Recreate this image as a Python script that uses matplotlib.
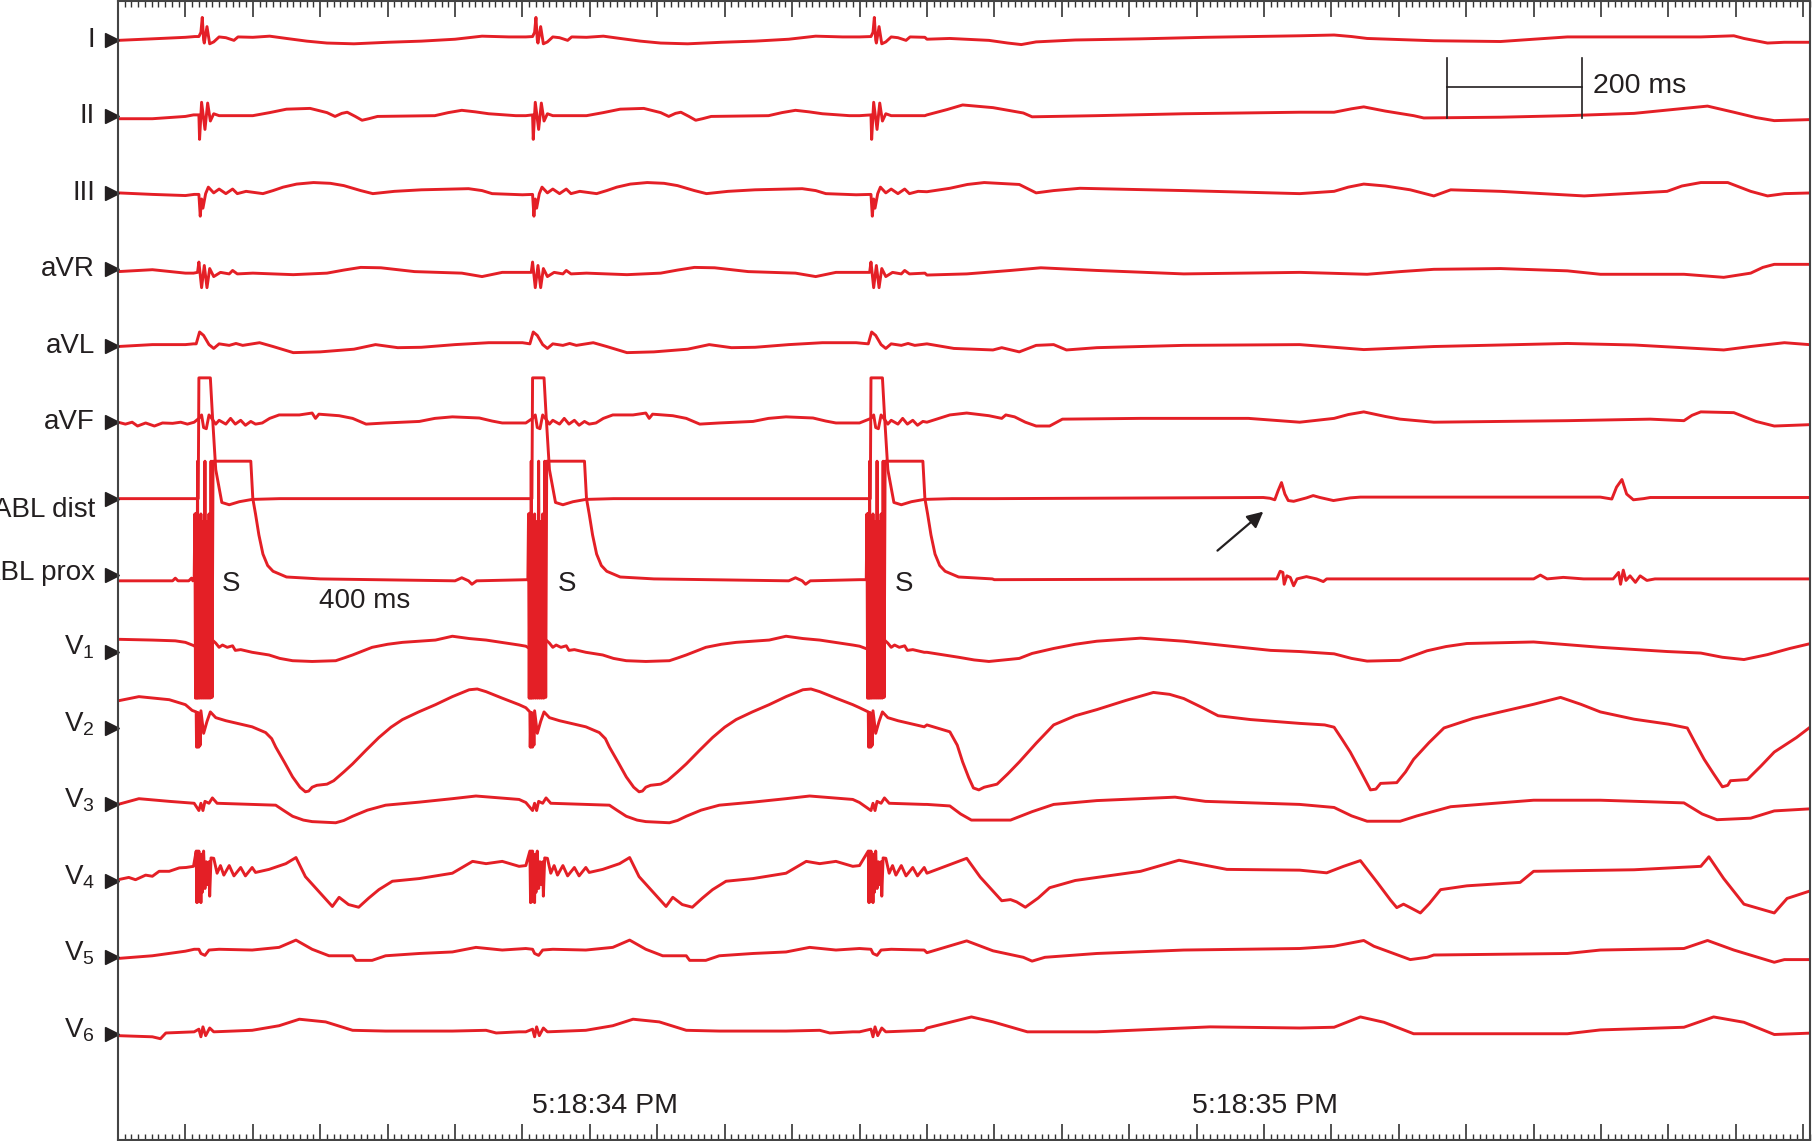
import numpy as np
import matplotlib.pyplot as plt
from matplotlib.ticker import MultipleLocator
from matplotlib.transforms import blended_transform_factory

plt.rcParams['font.family'] = ['Liberation Sans', 'DejaVu Sans']
plt.rcParams['mathtext.fontset'] = 'custom'
plt.rcParams['mathtext.rm'] = 'Liberation Sans'
plt.rcParams['mathtext.it'] = 'Liberation Sans'

RED = '#e41f26'
INK = '#231f20'

###############################################################################
# Datos: tiempo en ms, amplitud en mV (2 mV entre canales)
lead_names = ['I', 'II', 'III', 'aVR', 'aVL', 'aVF', 'ABL dist', 'ABL prox',
              'V$_1$', 'V$_2$', 'V$_3$', 'V$_4$', 'V$_5$', 'V$_6$']
label_shift = [0, 0, 0, 0, 0, 0, -0.29, 0.05, 0.1, 0.1, 0.1, 0.1, 0.1, 0.1]

stim_times = [120, 615, 1117]      # estimulos S (ms)
s_label_times = [168, 666, 1166]

# Derivacion I
i_pre = [(0, -0.01), (51, 0.03), (100, 0.07), (114, 0.09)]
i_paced = [(0, 0.09), (3, 0.2), (5, 0.59), (7, 0.0), (8, -0.08), (12, 0.35), (16, -0.10),
           (22, -0.05), (30, 0.08), (40, 0.06), (52, -0.01), (58, 0.08), (80, 0.07),
           (105, 0.10), (130, 0.04), (160, -0.03), (190, -0.08), (230, -0.10),
           (280, -0.06), (330, -0.03), (380, 0.02), (420, 0.10), (460, 0.08), (485, 0.08)]
i_post = [(1200, 0.02), (1234, 0.04), (1292, -0.01), (1320, -0.08), (1340, -0.12),
          (1362, -0.05), (1420, 0.0), (1517, 0.03), (1613, 0.07), (1753, 0.11),
          (1804, 0.13), (1830, 0.09), (1853, 0.04), (1952, -0.02), (2051, -0.04),
          (2100, 0.02), (2150, 0.08), (2249, 0.08), (2348, 0.08), (2397, 0.11),
          (2412, 0.04), (2447, -0.08), (2472, -0.06), (2516, -0.06)]

# Derivacion II
ii_pre = [(0, -0.06), (51, -0.06), (100, 0.0), (112, 0.04)]
ii_paced = [(0, 0.04), (1, -0.60), (4, 0.37), (9, -0.34), (13, 0.35), (17, -0.12),
            (22, 0.07), (30, 0.02), (80, 0.02), (105, 0.10), (130, 0.19), (165, 0.21),
            (190, 0.10), (202, 0.0), (212, 0.08), (220, 0.11), (232, 0.0), (242, -0.10),
            (252, -0.06), (265, 0.0), (350, 0.02), (370, 0.10), (390, 0.16), (410, 0.12),
            (430, 0.07), (470, 0.02), (485, 0.02)]
ii_post = [(1200, 0.04), (1230, 0.18), (1253, 0.30), (1298, 0.23), (1343, 0.09),
           (1356, -0.01), (1452, 0.02), (1581, 0.07), (1753, 0.11), (1804, 0.11),
           (1830, 0.20), (1848, 0.25), (1880, 0.14), (1922, 0.02), (1937, -0.04),
           (2051, -0.02), (2150, 0.02), (2249, 0.08), (2323, 0.21), (2358, 0.27),
           (2397, 0.11), (2430, -0.03), (2457, -0.11), (2516, -0.08)]

# Derivacion III
iii_pre = [(0, 0.0), (51, -0.04), (100, -0.07), (113, -0.04)]
iii_paced = [(0, -0.04), (2, -0.61), (4, -0.16), (6, -0.40), (10, -0.02), (14, 0.15),
             (22, 0.0), (30, 0.10), (40, -0.02), (50, 0.10), (57, -0.02), (70, 0.04),
             (95, -0.02), (110, 0.06), (125, 0.15), (145, 0.23), (170, 0.27), (195, 0.25),
             (215, 0.19), (240, 0.06), (258, -0.02), (290, 0.04), (330, 0.08),
             (400, 0.11), (420, 0.06), (435, -0.02), (480, -0.05)]
iii_post = [(1200, 0.03), (1234, 0.12), (1260, 0.22), (1285, 0.27), (1337, 0.22),
            (1362, 0.0), (1388, 0.06), (1427, 0.12), (1581, 0.06), (1753, -0.02),
            (1804, 0.04), (1825, 0.15), (1848, 0.23), (1880, 0.18), (1917, 0.08),
            (1952, -0.08), (1977, 0.08), (2051, 0.04), (2175, -0.08), (2298, 0.04),
            (2320, 0.18), (2348, 0.27), (2388, 0.27), (2422, 0.04), (2447, -0.08),
            (2472, -0.02), (2516, 0.0)]

# aVR
avr_pre = [(0, -0.06), (51, -0.01), (100, -0.10), (112, -0.10)]
avr_paced = [(-2, -0.08), (0, 0.19), (4, -0.48), (8, 0.10), (12, -0.48), (16, 0.02),
             (22, -0.19), (32, -0.08), (45, -0.12), (50, -0.03), (57, -0.12),
             (80, -0.10), (140, -0.14), (190, -0.10), (215, -0.02), (240, 0.05),
             (270, 0.04), (320, -0.06), (390, -0.10), (420, -0.19), (450, -0.08),
             (480, -0.08)]
avr_post = [(1200, -0.15), (1259, -0.12), (1324, -0.03), (1369, 0.04), (1452, -0.03),
            (1581, -0.12), (1753, -0.08), (1853, -0.13), (1902, -0.06), (1952, 0.0),
            (2051, 0.02), (2150, -0.04), (2199, -0.13), (2323, -0.13), (2382, -0.21),
            (2422, -0.10), (2440, 0.05), (2457, 0.13), (2516, 0.13)]

# aVL
avl_pre = [(0, -0.02), (51, 0.03), (100, 0.03), (112, 0.05)]
avl_paced = [(-4, 0.05), (1, 0.36), (7, 0.27), (15, 0.03), (22, -0.07), (30, 0.05),
             (45, 0.01), (55, 0.06), (65, 0.01), (90, 0.08), (110, -0.02), (140, -0.18),
             (180, -0.16), (230, -0.09), (262, 0.03), (295, -0.05), (330, -0.04),
             (380, 0.03), (430, 0.08), (480, 0.08)]
avl_post = [(1200, 0.05), (1240, -0.07), (1298, -0.11), (1311, -0.05), (1337, -0.16),
            (1362, 0.01), (1388, 0.03), (1407, -0.11), (1452, -0.05), (1581, 0.01),
            (1753, 0.03), (1848, -0.10), (1952, -0.02), (2150, 0.06), (2249, 0.02),
            (2382, -0.11), (2422, -0.02), (2472, 0.08), (2516, 0.02)]

# aVF
avf_pre = [(0, 0.0), (11, -0.05), (21, 0.0), (29, -0.10), (41, -0.02), (54, -0.10),
           (66, -0.02), (81, -0.03), (93, 0.0), (103, -0.05), (113, 0.0)]
avf_paced = [(0, 0.10), (4, 0.19), (7, -0.14), (11, -0.17), (15, 0.19), (19, 0.10),
             (25, -0.05), (30, 0.05), (40, -0.05), (47, 0.10), (54, -0.05), (62, 0.05),
             (69, -0.08), (77, 0.02), (84, -0.05), (94, -0.02), (105, 0.10), (119, 0.19),
             (149, 0.19), (168, 0.24), (173, 0.10), (178, 0.21), (208, 0.17), (228, 0.10),
             (248, -0.05), (277, -0.02), (327, 0.02), (350, 0.10), (376, 0.14),
             (416, 0.11), (435, 0.03), (450, -0.02), (485, -0.02)]
avf_post = [(1200, 0.0), (1234, 0.19), (1259, 0.24), (1292, 0.17), (1311, 0.10),
            (1317, 0.19), (1330, 0.14), (1346, 0.0), (1362, -0.10), (1382, -0.10),
            (1401, 0.08), (1517, 0.10), (1677, 0.10), (1753, 0.0), (1804, 0.10),
            (1825, 0.20), (1848, 0.27), (1880, 0.15), (1902, 0.08), (1952, 0.0),
            (2150, 0.04), (2273, 0.08), (2323, 0.04), (2335, 0.18), (2348, 0.27),
            (2397, 0.25), (2430, 0.02), (2457, -0.10), (2516, -0.06)]

# Ablacion distal
abld_pre = [(0, 0.0), (118, 0.0)]
abld_paced = [(-1, 0.0), (0, 3.16), (17, 3.16), (20, 2.2), (25, 0.76), (34, -0.10),
              (45, -0.16), (60, -0.08), (79, -0.02), (120, 0.0), (485, 0.0)]
abld_post = [(1300, 0.0), (1699, 0.03), (1709, 0.01), (1716, -0.03), (1721, 0.21),
             (1726, 0.42), (1731, 0.12), (1736, -0.05), (1744, -0.07), (1763, 0.02),
             (1773, 0.08), (1783, 0.03), (1803, -0.05), (1828, 0.02), (1843, 0.04),
             (2199, 0.04), (2216, -0.01), (2223, 0.30), (2231, 0.50), (2238, 0.12),
             (2248, -0.03), (2263, 0.0), (2273, 0.03), (2516, 0.03)]

# Ablacion proximal (bloque saturado del estimulo)
ablp_pre = [(0, -0.15), (81, -0.15), (85, -0.08), (89, -0.15), (105, -0.15),
            (109, -0.08), (111, -0.15)]
ablp_paced = [(-7, -0.12), (-6, 1.6), (-5, -3.22), (-4, 1.62), (-3, -3.22), (-2, 2.98),
              (-1, -3.22), (0, 1.5), (1.5, -3.22), (3, 1.6), (4.5, -3.22), (6, 1.4),
              (7.5, -3.22), (9, 2.98), (10.5, -3.22), (12, 1.4), (13.5, -3.22),
              (15, 1.6), (16.5, -3.22), (18, 2.98), (19.5, -3.2), (21, 2.98),
              (77, 2.98), (80, 2.0), (84, 1.6), (89, 1.05), (95, 0.55), (102, 0.25),
              (110, 0.1), (130, -0.05), (180, -0.1), (380, -0.15), (390, -0.07),
              (400, -0.15), (405, -0.24), (412, -0.15), (485, -0.12)]
ablp_post = [(1300, -0.12), (1719, -0.10), (1724, 0.10), (1728, 0.07), (1730, -0.24),
             (1734, -0.02), (1739, -0.06), (1744, -0.28), (1749, -0.10), (1763, -0.04),
             (1778, -0.10), (1788, -0.17), (1793, -0.10), (2100, -0.10), (2110, 0.0),
             (2120, -0.10), (2144, -0.06), (2174, -0.10), (2218, -0.10), (2226, 0.07),
             (2229, -0.24), (2233, 0.13), (2237, -0.14), (2243, -0.02), (2251, -0.19),
             (2258, -0.02), (2268, -0.14), (2280, -0.10), (2516, -0.10)]

# V1
v1_pre = [(0, 0.32), (51, 0.30), (85, 0.28), (100, 0.24), (113, 0.15)]
v1_paced = [(0, 0.03), (20, 0.30), (25, 0.22), (30, 0.11), (35, 0.17), (42, 0.11),
            (50, 0.15), (54, 0.03), (62, 0.05), (79, -0.02), (104, -0.09), (120, -0.18),
            (139, -0.24), (168, -0.26), (203, -0.24), (215, -0.17), (228, -0.09),
            (257, 0.11), (280, 0.19), (302, 0.24), (351, 0.30), (376, 0.40), (401, 0.34),
            (426, 0.30), (475, 0.17), (485, 0.14)]
v1_post = [(1200, -0.02), (1247, -0.15), (1270, -0.22), (1292, -0.26), (1337, -0.18),
           (1356, -0.05), (1388, 0.08), (1420, 0.19), (1452, 0.27), (1517, 0.35),
           (1581, 0.27), (1645, 0.15), (1710, 0.03), (1753, 0.0), (1804, -0.06),
           (1830, -0.18), (1853, -0.25), (1902, -0.23), (1920, -0.12), (1942, 0.02),
           (1970, 0.13), (2001, 0.21), (2100, 0.25), (2199, 0.11), (2298, 0.0),
           (2348, -0.04), (2380, -0.15), (2412, -0.21), (2447, -0.08), (2480, 0.08),
           (2516, 0.23)]

# V2
v2_pre = [(0, 0.71), (31, 0.82), (76, 0.74), (100, 0.61), (110, 0.46)]
v2_paced = [(-4, 0.42), (-3.5, -0.50), (-2.5, 0.40), (-2, -0.50), (-1, 0.40),
            (0, -0.50), (1, 0.38), (2, -0.45), (3, 0.45), (7, -0.14), (12, 0.17),
            (17, 0.42), (25, 0.27), (40, 0.19), (79, 0.03), (99, -0.12), (108, -0.28),
            (114, -0.50), (127, -0.90), (139, -1.28), (150, -1.55), (158, -1.67),
            (163, -1.65), (168, -1.55), (175, -1.50), (190, -1.47), (200, -1.38),
            (215, -1.15), (228, -0.94), (248, -0.58), (267, -0.25), (285, 0.02),
            (302, 0.22), (326, 0.42), (351, 0.61), (376, 0.82), (401, 1.0), (413, 1.02),
            (426, 0.95), (450, 0.78), (475, 0.61), (485, 0.53)]
v2_post = [(1200, 0.08), (1234, -0.10), (1245, -0.45), (1253, -0.89), (1262, -1.30),
           (1269, -1.57), (1277, -1.62), (1285, -1.55), (1304, -1.47), (1320, -1.20),
           (1337, -0.89), (1362, -0.40), (1388, 0.08), (1420, 0.32), (1452, 0.48),
           (1495, 0.72), (1536, 0.93), (1560, 0.88), (1581, 0.77), (1610, 0.52),
           (1632, 0.32), (1680, 0.22), (1753, 0.12), (1790, 0.08), (1804, 0.02),
           (1816, -0.30), (1828, -0.63), (1843, -1.12), (1858, -1.62), (1866, -1.60),
           (1873, -1.45), (1897, -1.43), (1910, -1.15), (1922, -0.82), (1945, -0.38),
           (1967, 0.0), (2010, 0.25), (2051, 0.42), (2100, 0.62), (2140, 0.80),
           (2170, 0.62), (2199, 0.42), (2249, 0.23), (2300, 0.10), (2328, 0.0),
           (2340, -0.40), (2353, -0.82), (2367, -1.20), (2380, -1.54), (2388, -1.50),
           (2392, -1.38), (2417, -1.35), (2437, -1.00), (2457, -0.63), (2490, -0.25),
           (2516, 0.10)]

# V3
v3_pre = [(0, 0.0), (31, 0.15), (76, 0.08), (113, 0.03)]
v3_paced = [(0, -0.16), (3, 0.03), (6, -0.16), (9, 0.08), (15, 0.03), (20, 0.17),
            (27, 0.03), (79, 0.0), (114, -0.02), (125, -0.15), (139, -0.31), (155, -0.41),
            (168, -0.45), (203, -0.48), (215, -0.42), (228, -0.31), (250, -0.15),
            (277, -0.02), (327, 0.06), (376, 0.15), (411, 0.22), (475, 0.13), (485, 0.05)]
v3_post = [(1200, 0.0), (1234, -0.04), (1250, -0.25), (1266, -0.41), (1324, -0.41),
           (1356, -0.19), (1388, 0.0), (1452, 0.10), (1568, 0.19), (1613, 0.08),
           (1753, 0.0), (1804, -0.08), (1830, -0.30), (1853, -0.44), (1902, -0.44),
           (1927, -0.30), (1977, -0.06), (2100, 0.11), (2199, 0.11), (2323, 0.04),
           (2350, -0.25), (2372, -0.40), (2422, -0.36), (2457, -0.17), (2516, -0.11)]

# V4
v4_pre = [(0, 0.03), (16, 0.09), (26, 0.03), (41, 0.15), (51, 0.12), (61, 0.25),
          (76, 0.25), (91, 0.34), (101, 0.35), (112, 0.38)]
v4_paced = [(-4, 0.78), (-3, -0.57), (-2, 0.78), (-1, -0.55), (0, 0.78), (1, -0.5),
            (2, 0.6), (3, -0.57), (4, 0.7), (5, -0.3), (7, 0.78), (9, -0.2), (11, 0.5),
            (13, -0.1), (15, 0.5), (16, -0.4), (18, 0.6), (22, 0.59), (27, 0.20),
            (32, 0.40), (37, 0.15), (45, 0.40), (52, 0.13), (62, 0.35), (69, 0.13),
            (79, 0.35), (84, 0.22), (104, 0.30), (129, 0.45), (144, 0.61), (158, 0.11),
            (178, -0.28), (198, -0.67), (208, -0.43), (222, -0.62), (237, -0.69),
            (252, -0.45), (267, -0.23), (287, -0.01), (327, 0.06), (376, 0.20),
            (406, 0.51), (426, 0.45), (450, 0.51), (475, 0.38), (485, 0.40)]
v4_post = [(1200, 0.20), (1259, 0.59), (1279, 0.10), (1311, -0.52), (1324, -0.49),
           (1333, -0.55), (1346, -0.69), (1365, -0.45), (1382, -0.18), (1420, 0.01),
           (1517, 0.25), (1574, 0.54), (1645, 0.30), (1753, 0.28), (1793, 0.21),
           (1818, 0.38), (1843, 0.53), (1868, -0.04), (1888, -0.51), (1897, -0.70),
           (1907, -0.61), (1917, -0.70), (1932, -0.84), (1945, -0.60), (1962, -0.23),
           (2001, -0.13), (2080, -0.04), (2100, 0.25), (2249, 0.29), (2348, 0.38),
           (2360, 0.63), (2382, 0.06), (2412, -0.61), (2457, -0.84), (2476, -0.46),
           (2516, -0.23)]

# V5
v5_pre = [(0, -0.03), (51, 0.04), (100, 0.16), (113, 0.21)]
v5_paced = [(0, 0.21), (3, 0.10), (9, 0.05), (15, 0.19), (30, 0.21), (79, 0.19),
            (119, 0.26), (144, 0.45), (168, 0.21), (193, 0.04), (228, 0.04),
            (233, -0.08), (257, -0.08), (277, 0.04), (327, 0.10), (376, 0.14),
            (411, 0.26), (450, 0.19), (485, 0.23)]
v5_post = [(1200, 0.12), (1259, 0.43), (1298, 0.17), (1343, 0.0), (1356, -0.10),
           (1375, 0.0), (1452, 0.10), (1581, 0.19), (1753, 0.23), (1804, 0.29),
           (1848, 0.44), (1863, 0.29), (1917, -0.06), (1942, 0.0), (1952, 0.06),
           (2150, 0.10), (2199, 0.19), (2323, 0.23), (2358, 0.44), (2397, 0.19),
           (2457, -0.13), (2472, -0.06), (2516, -0.06)]

# V6
v6_pre = [(0, -0.05), (51, -0.08), (63, -0.13), (71, 0.02), (113, 0.05)]
v6_paced = [(0, 0.12), (3, -0.08), (6, 0.18), (10, -0.05), (16, 0.15), (22, 0.05),
            (79, 0.09), (119, 0.21), (149, 0.38), (188, 0.31), (228, 0.09),
            (277, 0.07), (376, 0.07), (426, 0.09), (441, 0.02), (475, 0.05), (485, 0.05)]
v6_post = [(1200, 0.15), (1266, 0.44), (1298, 0.31), (1349, 0.05), (1452, 0.05),
           (1620, 0.18), (1753, 0.15), (1804, 0.17), (1843, 0.44), (1878, 0.30),
           (1922, 0.0), (2150, 0.0), (2199, 0.10), (2323, 0.17), (2367, 0.44),
           (2412, 0.30), (2457, -0.02), (2516, 0.02)]

traces = [(i_pre, i_paced, i_post), (ii_pre, ii_paced, ii_post),
          (iii_pre, iii_paced, iii_post), (avr_pre, avr_paced, avr_post),
          (avl_pre, avl_paced, avl_post), (avf_pre, avf_paced, avf_post),
          (abld_pre, abld_paced, abld_post), (ablp_pre, ablp_paced, ablp_post),
          (v1_pre, v1_paced, v1_post), (v2_pre, v2_paced, v2_post),
          (v3_pre, v3_paced, v3_post), (v4_pre, v4_paced, v4_post),
          (v5_pre, v5_paced, v5_post), (v6_pre, v6_paced, v6_post)]

# Escala y anotaciones
scale_bar_t = (1972, 2172)
time_labels = [(723, '5:18:34 PM'), (1701, '5:18:35 PM')]
arrow_tail = (1631, -13.36)
arrow_head = (1699, -12.34)

###############################################################################
def build(pre, paced, post):
    '''Une el tramo inicial, los latidos estimulados y el tramo final.'''
    stops = [s + paced[0][0] for s in stim_times[1:]] + [post[0][0]]
    pts = list(pre)
    for s, stop in zip(stim_times, stops):
        pts += [(s + r, a) for r, a in paced if s + r < stop]
    pts += post
    t, a = np.array(pts).T
    return t, a

###############################################################################
fig = plt.figure(figsize=(18.13, 11.41), dpi=100)
ax = fig.add_axes([118/1813, 1/1141, 1692/1813, 1139/1141])

gap = 2.0
for k, (pre, paced, post) in enumerate(traces):
    t, a = build(pre, paced, post)
    ax.plot(t, a - gap*k, color=RED, lw=2.1, solid_joinstyle='round',
            solid_capstyle='round')

ax.set_xlim(0, 2510)
ax.set_ylim(-28.78, 1.02)

# nombres de canales y marcadores
tr = blended_transform_factory(ax.transAxes, ax.transData)
for k, name in enumerate(lead_names):
    y0 = -gap*k
    ax.plot([-0.0036], [y0], marker='>', ms=10, color=INK, transform=tr, clip_on=False)
    ax.text(-0.0136, y0 + label_shift[k], name, transform=tr, ha='right', va='center',
            fontsize=20, color=INK)

# S y 400 ms
for ts in s_label_times:
    ax.text(ts, -14.24, 'S', fontsize=20, color=INK, ha='center', va='center')
ax.text(298, -14.68, '400 ms', fontsize=20, color=INK, ha='left', va='center')

for tt, txt in time_labels:
    ax.text(tt, -27.90, txt, fontsize=20.5, color=INK, ha='center', va='center')

# barra de 200 ms
ax.plot(scale_bar_t, [-1.23, -1.23], color=INK, lw=1.2)
for xb in scale_bar_t:
    ax.plot([xb, xb], [-0.47, -2.04], color=INK, lw=1.2)
ax.text(2188, -1.20, '200 ms', fontsize=20.5, color=INK, ha='left', va='center')

ax.annotate('', xy=arrow_head, xytext=arrow_tail,
            arrowprops=dict(arrowstyle='-|>', color=INK, lw=1.6, mutation_scale=24,
                            shrinkA=0, shrinkB=0))

ax.xaxis.set_major_locator(MultipleLocator(100))
ax.xaxis.set_minor_locator(MultipleLocator(10))
ax.tick_params(axis='x', which='both', direction='in', top=True, bottom=True,
               labelbottom=False, color='#333333')
ax.tick_params(axis='x', which='major', length=11.5, width=1.2)
ax.tick_params(axis='x', which='minor', length=4.3, width=1.0)
ax.set_yticks([])
for sp in ax.spines.values():
    sp.set_color('#444444')
    sp.set_linewidth(1.5)

fig.savefig('out.png', dpi=100, facecolor='white')
